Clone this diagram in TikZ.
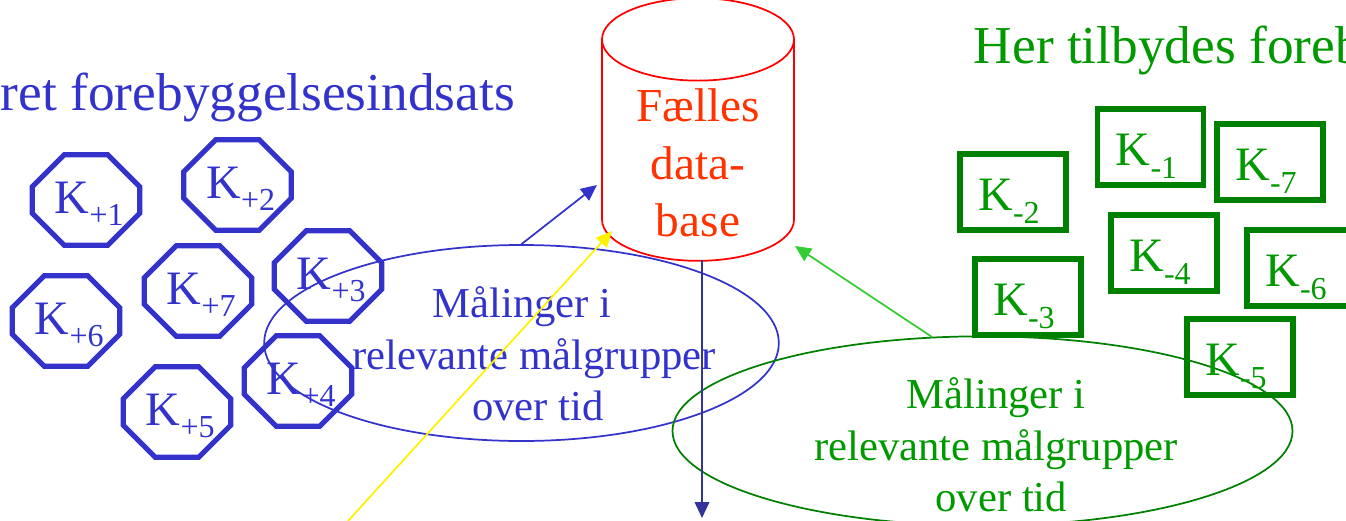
\documentclass[tikz,border=0pt]{standalone}
\usepackage{fontspec}
\setmainfont{Liberation Serif}
\usetikzlibrary{shapes.geometric,shapes.misc,arrows.meta}

\definecolor{kblue}{HTML}{3333CC}
\definecolor{kgreen}{HTML}{008000}
\definecolor{tgreen}{HTML}{009900}
\definecolor{tred}{HTML}{FF3300}
\definecolor{lgreen}{HTML}{33CC33}
\definecolor{dblue}{HTML}{333399}

\newcommand{\kplus}[1]{\kern5pt K\raisebox{-9pt}{\fontsize{24}{24}\selectfont +#1}}
\newcommand{\kminus}[1]{K\raisebox{-10pt}{\fontsize{24}{24}\selectfont -#1}\kern6pt}

\tikzset{
  konto/.style={inner sep=0pt,line width=3.9pt,font=\fontsize{36}{36}\selectfont},
  kocta/.style={konto,draw=kblue,text=kblue,chamfered rectangle,
    chamfered rectangle xsep=12pt,chamfered rectangle ysep=12pt,
    minimum width=79.5pt,minimum height=68pt,text height=25pt,text depth=5pt},
  krect/.style={konto,draw=kgreen,text=tgreen,rectangle,
    minimum width=79.5pt,minimum height=57pt,text height=27pt,text depth=0pt},
  maal/.style={ellipse,draw,line width=1.3pt,inner sep=0pt},
  maaltext/.style={align=center,font=\fontsize{32}{38.5}\selectfont,inner sep=0pt},
  overskrift/.style={anchor=base west,inner sep=0pt,font=\fontsize{40}{40}\selectfont}
}

\begin{document}
\begin{tikzpicture}[x=.75pt,y=-.75pt,>={Triangle[length=12pt,width=11pt]},line width=1.3pt]
  \useasboundingbox (0,0) rectangle (1346,521);

  \node[overskrift,text=kblue] (titelblaa) at (0,110) {ret forebyggelsesindsats};
  \node[overskrift,text=tgreen] (titelgroen) at (973,63) {Her tilbydes foreb};

  % maalinger
  \node[maal,draw=kblue,minimum width=386pt,minimum height=147pt] (maalblaa) at (521.5,343) {};
  \node[maal,draw=kgreen,minimum width=465pt,minimum height=142pt] (maalgroen) at (982.5,431) {};
  \node[maaltext,text=kblue] (tekstblaa) at (534,354) {Målinger i\hspace*{18pt}\\relevante målgrupper\\\hspace*{6pt}over tid};
  \node[maaltext,text=tgreen] (tekstgroen) at (996,445) {Målinger i\\relevante målgrupper\\\hspace*{8pt}over tid};

  % plus
  \node[kocta] (kp1) at (86,200)    {\kplus{1}};
  \node[kocta] (kp2) at (237.5,185) {\kplus{2}};
  \node[kocta] (kp3) at (328,276)   {\kplus{3}};
  \node[kocta] (kp4) at (298,381)   {\kplus{4}};
  \node[kocta] (kp5) at (177,412)   {\kplus{5}};
  \node[kocta] (kp6) at (66,321)    {\kplus{6}};
  \node[kocta] (kp7) at (198,291)   {\kplus{7}};

  % minus
  \node[krect] (km1) at (1150.5,147) {\kminus{1}};
  \node[krect] (km2) at (1013,192)   {\kminus{2}};
  \node[krect] (km3) at (1028,297)   {\kminus{3}};
  \node[krect] (km4) at (1164,253)   {\kminus{4}};
  \node[krect] (km5) at (1240,357)   {\kminus{5}};
  \node[krect] (km6) at (1300,268)   {\kminus{6}};
  \node[krect] (km7) at (1270,162)   {\kminus{7}};

  % database
  \node[cylinder,shape border rotate=90,aspect=.667,draw=red,line width=1.3pt,anchor=shape center,
    minimum width=144pt,minimum height=197pt,inner sep=0pt,font=\fontsize{35.5}{43}\selectfont] (db) at (698,129.5) {\phantom{Fælles}};
  \node[align=center,text=tred,inner sep=0pt,font=\fontsize{35.5}{43}\selectfont] (dbtekst) at (698,163) {Fælles\\data-\\base};

  \coordinate (blaaind) at (597,185);
  \coordinate (gulud) at (348,521);
  \coordinate (gulind) at (612,231);
  \coordinate (groenud) at (932,337);
  \coordinate (groenind) at (795,246);
  \coordinate (dbud) at (702,260);
  \coordinate (dbned) at (702,518);

  \path[->]
  (maalblaa.north) edge [draw=kblue] (blaaind)
  (gulud) edge [draw=yellow,fill=yellow] (gulind)
  (groenud) edge [draw=lgreen,fill=lgreen] (groenind)
  (dbud) edge [draw=dblue,fill=dblue] (dbned)
  ;
\end{tikzpicture}
\end{document}
